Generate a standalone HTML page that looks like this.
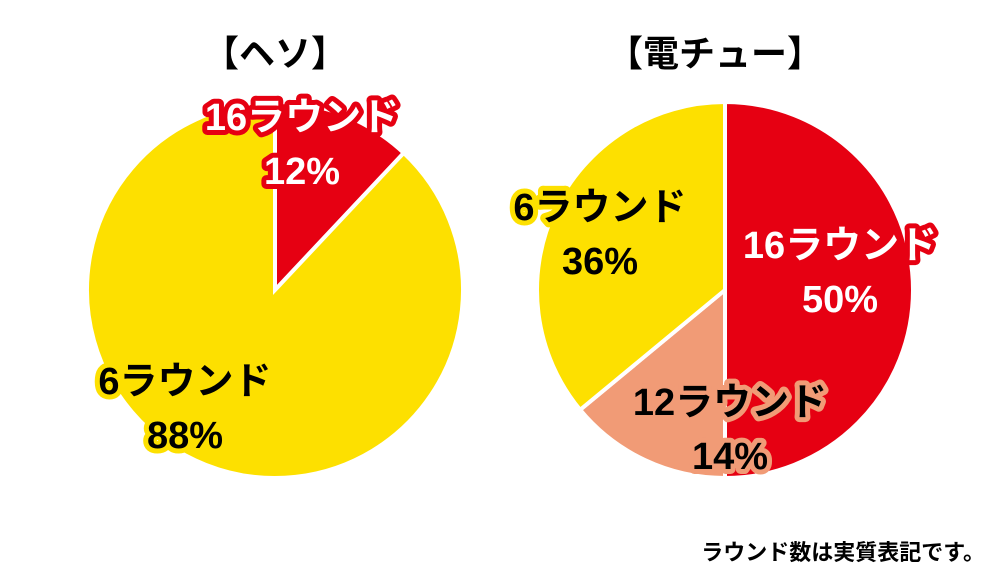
<!DOCTYPE html>
<html><head><meta charset="utf-8"><style>
html,body{margin:0;padding:0;background:#fff;width:1000px;height:577px;overflow:hidden}
text{font-family:"Liberation Sans","Noto Sans CJK JP",sans-serif;font-weight:bold}
.lb{font-size:38px;paint-order:stroke;stroke-linejoin:round;stroke-width:10px;text-anchor:middle}
</style></head><body>
<svg id="chart" width="1000" height="577" viewBox="0 0 1000 577">
<text x="275" y="66" font-size="36" text-anchor="middle">【ヘソ】</text>
<text x="715" y="66" font-size="36" text-anchor="middle">【電チュー】</text>
<g id="pies"></g>
<g id="labels"></g>
<text x="985" y="560" font-size="22" text-anchor="end">ラウンド数は実質表記です。</text>
</svg>
<script>
const hesoCategories=["16ラウンド","6ラウンド"];
const hesoValues=[12,88];
const denchuCategories=["16ラウンド","12ラウンド","6ラウンド"];
const denchuValues=[50,14,36];
const hesoColors=["#e60012","#fde000"];
const denchuColors=["#e60012","#f19b76","#fde000"];
const NS="http://www.w3.org/2000/svg";
const pies=document.getElementById('pies');
function drawPie(cx,cy,r,vals,cols,prefix){
  const tot=vals.reduce((a,b)=>a+b,0);let a0=0;
  vals.forEach((v,i)=>{
    const a1=a0+v/tot*2*Math.PI;
    const x0=cx+r*Math.sin(a0),y0=cy-r*Math.cos(a0),x1=cx+r*Math.sin(a1),y1=cy-r*Math.cos(a1);
    const p=document.createElementNS(NS,'path');
    p.setAttribute('d',`M${cx},${cy}L${x0},${y0}A${r},${r} 0 ${a1-a0>Math.PI?1:0} 1 ${x1},${y1}Z`);
    p.setAttribute('fill',cols[i]);p.setAttribute('stroke','#fff');p.setAttribute('stroke-width','4');
    
    
    pies.appendChild(p);a0=a1;
  });
}
drawPie(275,290,188,hesoValues,hesoColors,'heso');
drawPie(725,290,188,denchuValues,denchuColors,'denchu');
const labels=document.getElementById('labels');
function label(x,y,name,pct,fill,stroke,key){
  [[name,y],[pct+'%',y+54]].forEach((t,j)=>{
    const e=document.createElementNS(NS,'text');
    e.setAttribute('x',x);e.setAttribute('y',t[1]);e.setAttribute('class','lb');
    e.setAttribute('fill',fill);e.setAttribute('stroke',stroke);e.textContent=t[0];
    
    
    labels.appendChild(e);
  });
}
label(302,130,hesoCategories[0],hesoValues[0],'#fff','#e60012','heso-16r');
label(185,394,hesoCategories[1],hesoValues[1],'#000','#fde000','heso-6r');
label(840,258,denchuCategories[0],denchuValues[0],'#fff','#e60012','denchu-16r');
label(730,415,denchuCategories[1],denchuValues[1],'#000','#f19b76','denchu-12r');
label(600,220,denchuCategories[2],denchuValues[2],'#000','#fde000','denchu-6r');
</script>
</body></html>
